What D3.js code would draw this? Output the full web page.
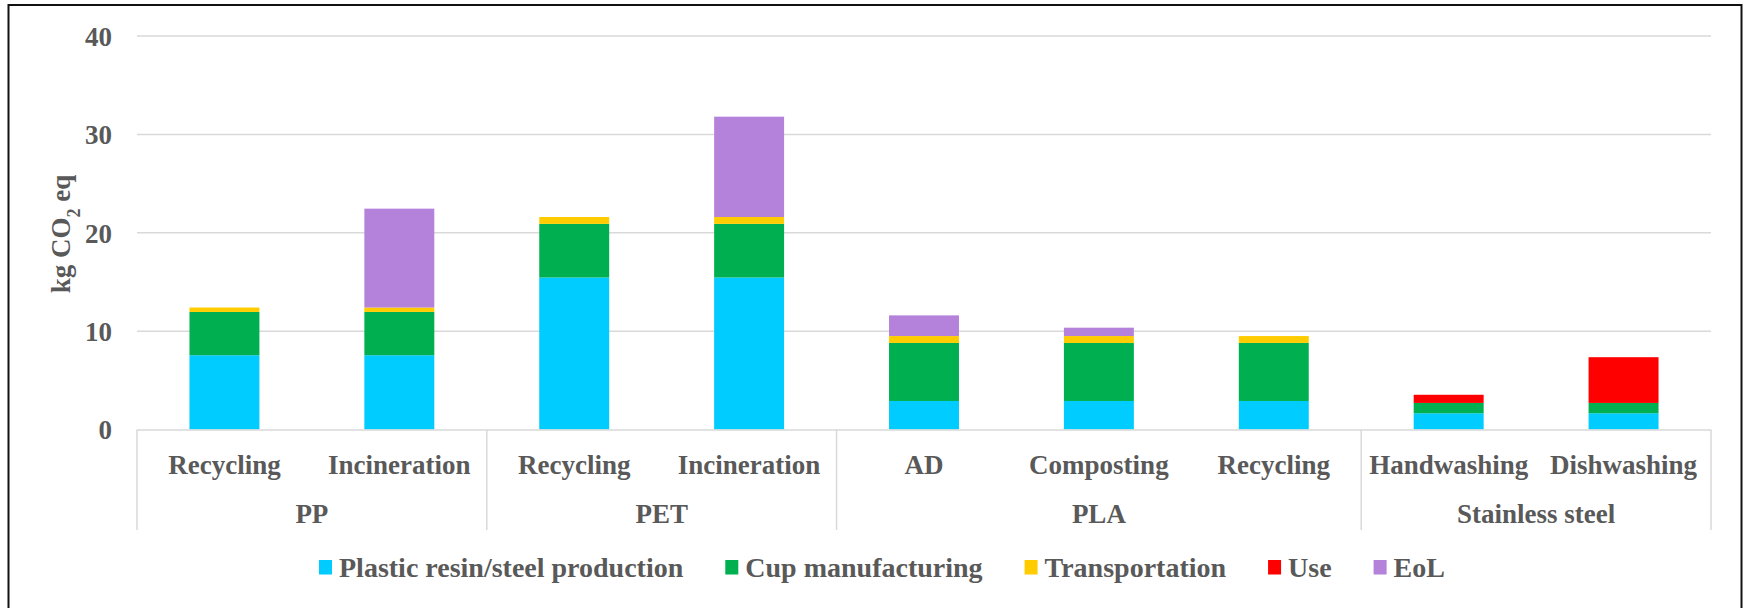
<!DOCTYPE html>
<html>
  <head>
    <style>
      body { margin: 0; background: #fff; }
      svg text {
        font-family: "Liberation Serif", "Times New Roman", serif;
        font-weight: bold;
        font-size: 27px;
        fill: #595959;
      }
    </style>
  </head>
  <body>
    <svg id="chart" width="1746" height="608"></svg>

    <script src="https://d3js.org/d3.v7.min.js"></script>
    <script type="text/javascript">
      const groups = ["PP", "PP", "PET", "PET", "PLA", "PLA", "PLA", "Stainless steel", "Stainless steel"];
      const options = ["Recycling", "Incineration", "Recycling", "Incineration", "AD", "Composting", "Recycling", "Handwashing", "Dishwashing"];

      const resin = [7.55, 7.55, 15.45, 15.45, 2.9, 2.9, 2.9, 1.65, 1.65];
      const cup = [4.4, 4.4, 5.45, 5.45, 5.9, 5.9, 5.9, 1.05, 1.05];
      const transport = [0.45, 0.45, 0.7, 0.7, 0.7, 0.7, 0.7, 0, 0];
      const use = [0, 0, 0, 0, 0, 0, 0, 0.83, 4.65];
      const eol = [0, 10.05, 0, 10.2, 2.1, 0.85, 0, 0, 0];

      const seriesNames = ["Plastic resin/steel production", "Cup manufacturing", "Transportation", "Use", "EoL"];
      const seriesColors = ["#00CCFF", "#00B050", "#FFCC00", "#FF0000", "#B482DA"];
      const yTicks = [0, 10, 20, 30, 40];

      (function() {
        const svg = d3.select("#chart");
        const left = 137, right = 1711, top = 36, bottom = 429.5;

        const rows = options.map(function(o, i) {
          return { key: i, resin: resin[i], cup: cup[i], transport: transport[i], use: use[i], eol: eol[i] };
        });
        const keys = ["resin", "cup", "transport", "use", "eol"];
        const stacked = d3.stack().keys(keys)(rows);

        const x = d3.scaleBand().domain(d3.range(options.length)).range([left, right])
          .paddingInner(0.6).paddingOuter(0.3);
        const y = d3.scaleLinear().domain([0, 40]).range([bottom, top]);

        // outer frame (bottom edge is cut off in the original)
        svg.append("rect")
          .attr("x", 8.5).attr("y", 5).attr("width", 1733).attr("height", 620)
          .attr("fill", "none").attr("stroke", "#111").attr("stroke-width", 2);

        // gridlines
        svg.append("g").selectAll("line")
          .data(yTicks.filter(function(d) { return d > 0; }))
          .enter().append("line")
          .attr("x1", left).attr("x2", right)
          .attr("y1", function(d) { return y(d); }).attr("y2", function(d) { return y(d); })
          .attr("stroke", "#D9D9D9").attr("stroke-width", 1.5);

        // y axis labels
        const yAxis = svg.append("g")
          .attr("transform", "translate(" + (left - 12) + ",0)")
          .call(d3.axisLeft(y).tickValues(yTicks).tickSize(0).tickPadding(13));
        yAxis.select(".domain").remove();
        yAxis.selectAll("text")
          .attr("dy", "0.35em")
          .style("font-family", "Liberation Serif, serif")
          .style("font-size", "27px")
          .attr("fill", "#595959");

        svg.append("text")
          .attr("transform", "translate(70,234) rotate(-90)")
          .attr("text-anchor", "middle")
          .html('kg CO<tspan baseline-shift="sub" font-size="18px">2</tspan> eq');

        // bars
        svg.append("g").selectAll("g")
          .data(stacked)
          .enter().append("g")
          .attr("fill", function(d, i) { return seriesColors[i]; })
          .selectAll("rect")
          .data(function(d) { return d; })
          .enter().append("rect")
          .attr("x", function(d) { return x(d.data.key); })
          .attr("width", x.bandwidth())
          .attr("y", function(d) { return y(d[1]); })
          .attr("height", function(d) { return y(d[0]) - y(d[1]); });

        // category axis
        svg.append("line")
          .attr("x1", left).attr("x2", right).attr("y1", bottom + 0.5).attr("y2", bottom + 0.5)
          .attr("stroke", "#D9D9D9").attr("stroke-width", 1.5);

        const step = x.step();
        const bounds = [0];
        groups.forEach(function(g, i) {
          if (i > 0 && g !== groups[i - 1]) bounds.push(i);
        });
        bounds.push(groups.length);

        svg.append("g").selectAll("line")
          .data(bounds)
          .enter().append("line")
          .attr("x1", function(d) { return left + d * step; })
          .attr("x2", function(d) { return left + d * step; })
          .attr("y1", bottom).attr("y2", 530)
          .attr("stroke", "#D9D9D9").attr("stroke-width", 1.5);

        svg.append("g").selectAll("text")
          .data(options)
          .enter().append("text")
          .attr("x", function(d, i) { return x(i) + x.bandwidth() / 2; })
          .attr("y", 474)
          .attr("text-anchor", "middle")
          .text(function(d) { return d; });

        svg.append("g").selectAll("text")
          .data(bounds.slice(0, -1))
          .enter().append("text")
          .attr("x", function(d, i) { return left + (d + bounds[i + 1]) / 2 * step; })
          .attr("y", 523)
          .attr("text-anchor", "middle")
          .text(function(d) { return groups[d]; });

        // legend
        const legend = svg.append("g");
        let lx = 319;
        seriesNames.forEach(function(name, i) {
          legend.append("rect")
            .attr("x", lx).attr("y", 560).attr("width", 13).attr("height", 14.5)
            .attr("fill", seriesColors[i]);
          const t = legend.append("text")
            .attr("x", lx + 20).attr("y", 577)
            .style("font-size", "28px")
            .text(name);
          lx += 20 + t.node().getComputedTextLength() + 42;
        });
      })()
    </script>
  </body>
</html>
